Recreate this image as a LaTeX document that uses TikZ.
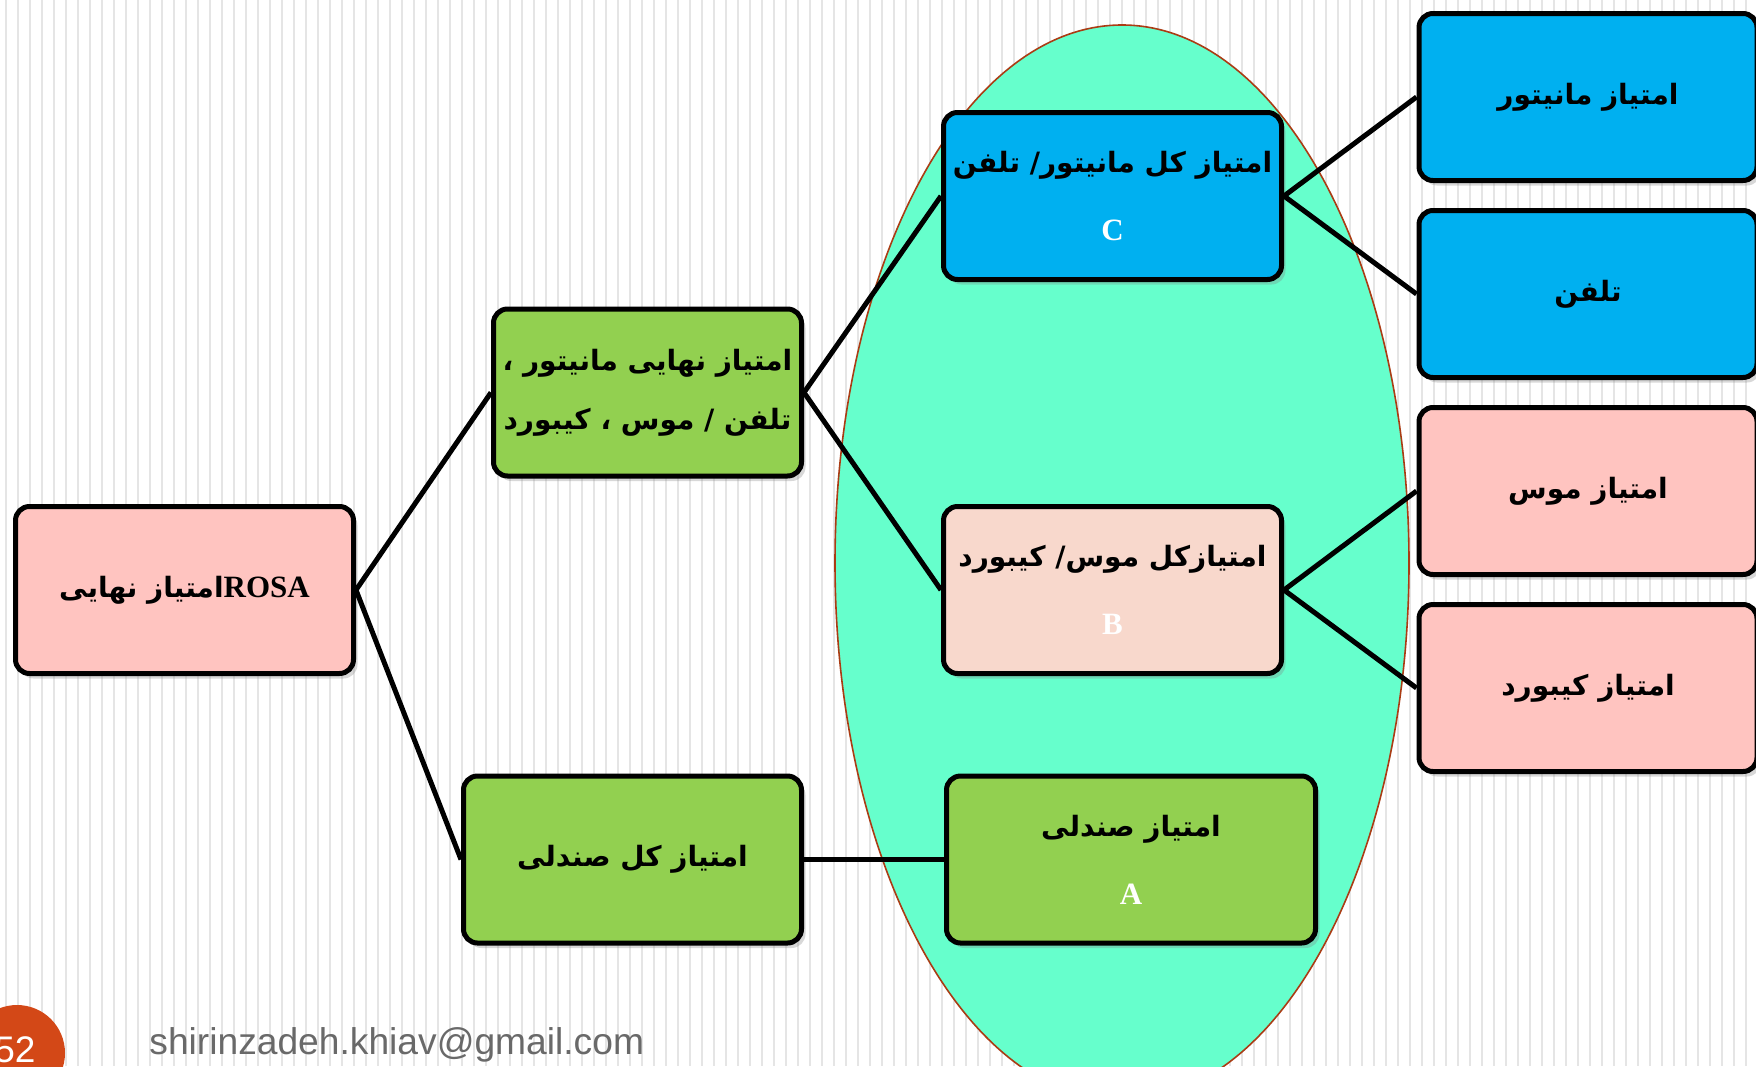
\documentclass[tikz,border=0pt]{standalone}
\usepackage{fontspec}
\usetikzlibrary{shadows}
\setmainfont{Liberation Serif}
\newfontfamily\arabicfont[Script=Arabic]{DejaVu Sans}
\newfontfamily\mailfont{Liberation Sans}
\TeXXeTstate=1
\definecolor{boxpink}{RGB}{255,196,192}
\definecolor{boxgreen}{RGB}{146,208,80}
\definecolor{boxblue}{RGB}{0,176,240}
\definecolor{boxpeach}{RGB}{248,216,204}
\definecolor{ovalfill}{RGB}{102,255,204}
\definecolor{ovalline}{RGB}{170,60,20}
\definecolor{pageorange}{RGB}{211,72,23}
\definecolor{mailgray}{RGB}{105,105,105}
\newcommand{\fa}[1]{{\arabicfont\bfseries\beginR #1\endR}}
\newcommand{\tag}[1]{{\color{white}\bfseries\fontsize{15.5}{34}\selectfont #1}}
\begin{document}
\begin{tikzpicture}[x=0.5pt,y=-0.5pt,
  scorebox/.style={draw=black,line width=2.5pt,rounded corners=7pt,
    minimum width=169pt,minimum height=83.5pt,align=center,inner sep=1pt,
    font=\fontsize{14}{34}\selectfont,
    drop shadow={shadow xshift=2pt,shadow yshift=-2.5pt,opacity=.3}},
  link/.style={line width=2.5pt,black},
  stripe/.style={gray!20,line width=0.6pt}]
\useasboundingbox (0,0) rectangle (1756,1066);
\clip (0,0) rectangle (1756,1066);
\fill[white] (0,0) rectangle (1756,1066);
\foreach \x in {6,18,...,1750}
  \draw[stripe] (\x,0) -- (\x,1066);
% oval round the three totals
\filldraw[fill=ovalfill,draw=ovalline,line width=0.8pt] (1122,563) ellipse [x radius=143.5pt,y radius=269pt];
\node[scorebox,fill=boxpink] (rosa) at (184.5,590) {\fa{\beginL{\rmfamily\bfseries\fontsize{15.5}{34}\selectfont ROSA}\endL امتیاز نهایی}};
\node[scorebox,fill=boxgreen,minimum width=154pt] (final) at (647.5,392.5) {\fa{امتیاز نهایی مانیتور ،}\\[-4.5pt]\fa{تلفن / موس ، کیبورد}};
\node[scorebox,fill=boxgreen] (chairtotal) at (632.5,859.5) {\fa{امتیاز کل صندلی}};
\node[scorebox,fill=boxblue] (totalc) at (1112.5,196) {\fa{امتیاز کل مانیتور/ تلفن}\\\tag{C}};
\node[scorebox,fill=boxpeach] (totalb) at (1112.5,590) {\fa{امتیازکل موس/ کیبورد}\\\tag{B}};
\node[scorebox,fill=boxgreen,minimum width=184.5pt] (totala) at (1131,859.5) {\fa{امتیاز صندلی}\\\tag{A}};
\node[scorebox,fill=boxblue] (monitor) at (1588,97) {\fa{امتیاز مانیتور}};
\node[scorebox,fill=boxblue] (phone) at (1588,294) {\fa{تلفن}};
\node[scorebox,fill=boxpink] (mouse) at (1588,491) {\fa{امتیاز موس}};
\node[scorebox,fill=boxpink] (keyboard) at (1588,688) {\fa{امتیاز کیبورد}};
\draw[link] (rosa.east) -- (final.west);
\draw[link] (rosa.east) -- (chairtotal.west);
\draw[link] (final.east) -- (totalc.west);
\draw[link] (final.east) -- (totalb.west);
\draw[link] (chairtotal.east) -- (totala.west);
\draw[link] (totalc.east) -- (monitor.west);
\draw[link] (totalc.east) -- (phone.west);
\draw[link] (totalb.east) -- (mouse.west);
\draw[link] (totalb.east) -- (keyboard.west);
\fill[pageorange] (17,1053) circle [radius=24pt];
\node[text=white] (pagenum) at (15,1050) {\mailfont\fontsize{18.5}{20}\selectfont 52};
\node[anchor=west,inner sep=0pt,text=mailgray] (mail) at (149,1045) {\mailfont\fontsize{18.6}{20}\selectfont shirinzadeh.khiav@gmail.com};
\end{tikzpicture}
\end{document}
